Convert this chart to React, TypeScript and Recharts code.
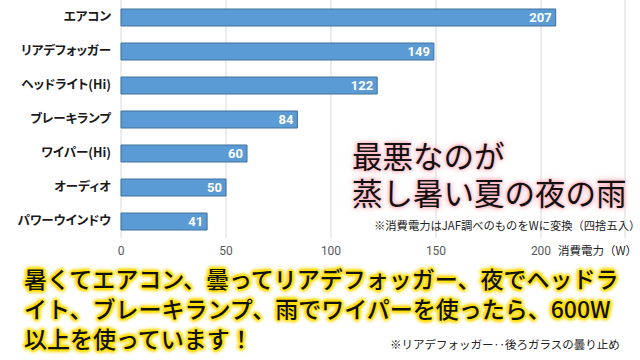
import { BarChart, Bar, XAxis, YAxis, CartesianGrid, LabelList } from "recharts";

// 各装備の消費電力（W）
const items = [
  "エアコン",
  "リアデフォッガー",
  "ヘッドライト(Hi)",
  "ブレーキランプ",
  "ワイパー(Hi)",
  "オーディオ",
  "パワーウインドウ",
];
const watts = [207, 149, 122, 84, 60, 50, 41];
const xTicks = [0, 50, 100, 150, 200];

const data = items.map((name, i) => ({ name, watts: watts[i] }));

const jp = "'Noto Sans CJK JP', 'Noto Sans', sans-serif";

const yellowGlow =
  "0 0 1px #ffe600, 0 0 2px #ffe600, 0 0 3px #ffe600, 0 0 4px #ffd800, 0 0 6px #ffd000, 2px 0 3px #ffd800, -2px 0 3px #ffd800, 0 2px 3px #ffd800, 0 -2px 3px #ffd800";
const pinkGlow =
  "0 0 2px #ffc0c8, 0 0 3px #ffb0bc, 0 0 5px #ffb0bc, 0 0 8px #ffc8d0";

export default function App() {
  return (
    <div
      style={{
        position: "fixed",
        left: 0,
        top: 0,
        width: 640,
        height: 360,
        background: "#ffffff",
        overflow: "hidden",
        fontFamily: jp,
      }}
    >
      <BarChart
        width={640}
        height={360}
        data={data}
        layout="vertical"
        margin={{ top: 0, right: 15, left: 0, bottom: 92 }}
        barCategoryGap={0}
      >
        <CartesianGrid horizontal={false} stroke="#d9d9d9" />
        <XAxis
          type="number"
          domain={[0, 240]}
          ticks={xTicks}
          axisLine={false}
          tickLine={false}
          height={30}
          tick={{ fontSize: 12, fill: "#595959", fontFamily: "Roboto, sans-serif" }}
        />
        <YAxis
          type="category"
          dataKey="name"
          width={121}
          axisLine={false}
          tickLine={false}
          tickMargin={4}
          tick={{
            fontSize: 12.5,
            fill: "#1a1a1a",
            fontFamily: jp,
            fontWeight: 700,
            style: { fontFeatureSettings: "'palt'" },
          }}
        />
        <Bar
          dataKey="watts"
          fill="#5b9bd5"
          stroke="#41719c"
          strokeWidth={1}
          barSize={17}
          isAnimationActive={false}
        >
          <LabelList
            dataKey="watts"
            position="insideRight"
            offset={4}
            fill="#ffffff"
            style={{ fontSize: 13, fontWeight: 700, fontFamily: "Roboto, sans-serif" }}
          />
        </Bar>
      </BarChart>

      <div
        style={{
          position: "absolute",
          left: 352,
          top: 137,
          fontSize: 30.5,
          lineHeight: "37px",
          color: "#111",
          textShadow: pinkGlow,
          whiteSpace: "nowrap",
        }}
      >
        最悪なのが
        <br />
        蒸し暑い夏の夜の雨
      </div>
      <div
        style={{
          position: "absolute",
          left: 374,
          top: 217,
          fontSize: 11.3,
          color: "#222",
          whiteSpace: "nowrap",
        }}
      >
        ※消費電力はJAF調べのものをWに変換（四捨五入）
      </div>
      <div
        style={{
          position: "absolute",
          left: 558,
          top: 242,
          fontSize: 11.5,
          color: "#222",
          whiteSpace: "nowrap",
        }}
      >
        消費電力（W）
      </div>
      <div
        style={{
          position: "absolute",
          left: 24,
          top: 263,
          fontSize: 23,
          lineHeight: "30px",
          color: "#111",
          fontWeight: 500,
          textShadow: yellowGlow,
          whiteSpace: "nowrap",
        }}
      >
        暑くてエアコン、曇ってリアデフォッガー、夜でヘッドラ
        <br />
        イト、ブレーキランプ、雨でワイパーを使ったら、600W
        <br />
        以上を使っています！
      </div>
      <div
        style={{
          position: "absolute",
          left: 390,
          top: 336,
          fontSize: 11.5,
          color: "#222",
          whiteSpace: "nowrap",
        }}
      >
        ※リアデフォッガー‥後ろガラスの曇り止め
      </div>
    </div>
  );
}
